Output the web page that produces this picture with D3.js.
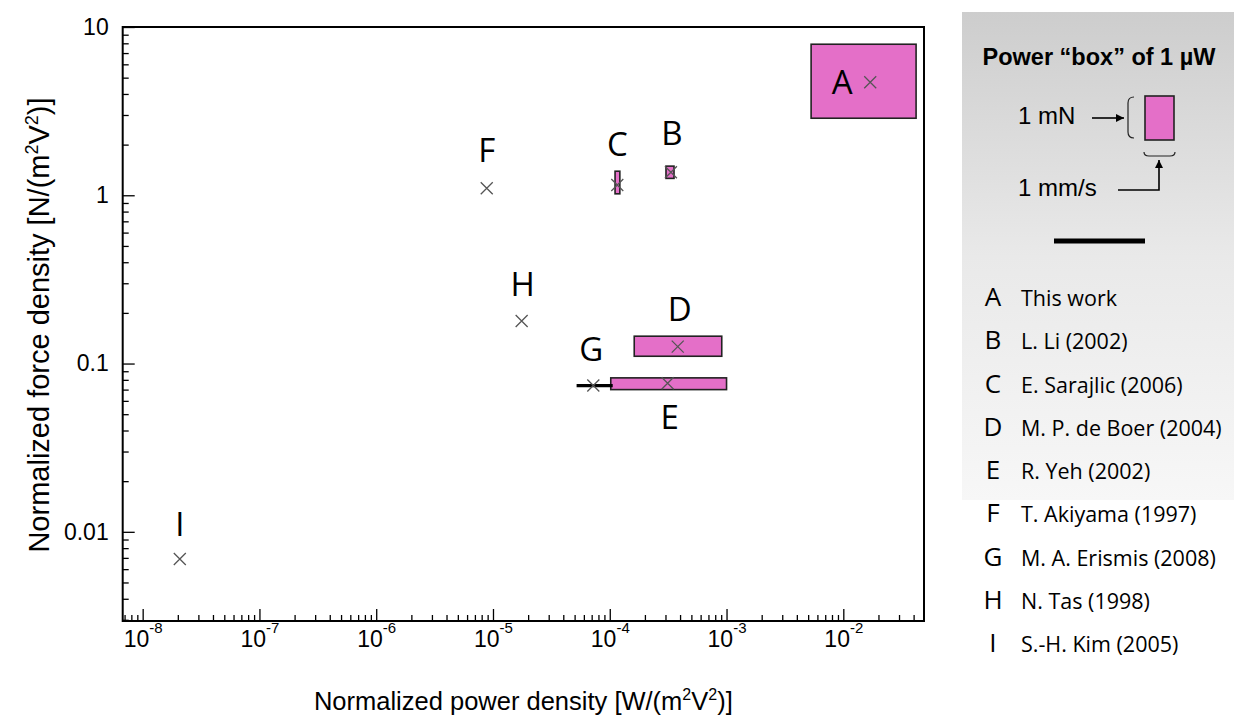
<!DOCTYPE html>
<html>
<head>
<meta charset="utf-8">
<script src="https://cdn.jsdelivr.net/npm/d3@7"></script>
<style>
  body { margin: 0; background: #fff; }
  svg { display: block; }
  .tick text { font-family: "Liberation Sans", Arial, sans-serif; fill: #000; }
  .tick line { stroke: #000; stroke-width: 1.3; }
</style>
</head>
<body>
<div id="chart"></div>
<script>
// data (power in W/(m2V2), force in N/(m2V2))
const labels = ['A', 'B', 'C', 'D', 'E', 'F', 'G', 'H', 'I'];
const refs = ['This work', 'L. Li (2002)', 'E. Sarajlic (2006)', 'M. P. de Boer (2004)',
  'R. Yeh (2002)', 'T. Akiyama (1997)', 'M. A. Erismis (2008)', 'N. Tas (1998)', 'S.-H. Kim (2005)'];
const power = [1.7e-2, 3.34e-4, 1.16e-4, 3.82e-4, 3.13e-4, 8.84e-6, 7.23e-5, 1.76e-5, 2.08e-8];
const force = [4.7, 1.37, 1.15, 0.126, 0.0764, 1.1, 0.074, 0.179, 0.0069];
// ranges (null = no range)
const powerLo = [5.3e-3, 3.03e-4, 1.11e-4, 1.62e-4, 1.02e-4, null, 5.2e-5, null, null];
const powerHi = [4.2e-2, 3.55e-4, 1.22e-4, 9.1e-4, 1.0e-3, null, 1.06e-4, null, null];
const forceLo = [2.87, 1.26, 1.02, 0.1105, 0.070, null, null, null, null];
const forceHi = [7.9, 1.49, 1.39, 0.1454, 0.0822, null, null, null, null];

// axis ticks
const xMajor = [1e-8, 1e-7, 1e-6, 1e-5, 1e-4, 1e-3, 1e-2];
const xExp = ['-8', '-7', '-6', '-5', '-4', '-3', '-2'];
const yMajor = [10, 1, 0.1, 0.01];
const yTickLabels = ['10', '1', '0.1', '0.01'];

// layout: letter label offsets from the marker (px)
const labelDx = [-28, 1, 0, 2, 2, 0, -2, 1, 0];
const labelDy = [12, -27, -29, -26, 46, -26, -25, -25, -23];

const W = 1234, H = 719;
const plot = { left: 122.7, right: 924, top: 27, bottom: 621 };
const pink = '#e46fc8';
const arial = '"Liberation Sans", Arial, sans-serif';
const sans = '"Open Sans", "Noto Sans", sans-serif';

const svg = d3.select('#chart').append('svg').attr('width', W).attr('height', H);

const x = d3.scaleLog().domain([10 ** -8.171, 10 ** -1.309]).range([plot.left, plot.right]);
const y = d3.scaleLog().domain([10 ** -2.53, 10]).range([plot.bottom, plot.top]);

// minor tick values
function minors(lo, hi) {
  const out = [];
  for (let e = Math.floor(Math.log10(lo)); e <= Math.ceil(Math.log10(hi)); e++) {
    for (let m = 2; m <= 9; m++) {
      const v = m * 10 ** e;
      if (v > lo && v < hi) out.push(v);
    }
  }
  return out;
}

// x axis
svg.append('g')
  .attr('transform', `translate(0,${plot.bottom})`)
  .call(d3.axisBottom(x).tickValues(minors(...x.domain())).tickSize(-6).tickFormat(''))
  .call(g => g.select('.domain').remove());

const xg = svg.append('g')
  .attr('transform', `translate(0,${plot.bottom})`)
  .call(d3.axisBottom(x).tickValues(xMajor).tickSize(-12).tickPadding(12).tickFormat(''))
  .call(g => g.select('.domain').remove());

xg.selectAll('.tick text').each(function (d, i) {
  const t = d3.select(this).attr('font-size', 23).attr('dy', '0.71em').attr('y', 10);
  t.append('tspan').text('10');
  t.append('tspan').attr('font-size', 15).attr('dy', '-0.95em').text(xExp[i]);
});

// y axis
svg.append('g')
  .attr('transform', `translate(${plot.left},0)`)
  .call(d3.axisLeft(y).tickValues(minors(...y.domain())).tickSize(-6).tickFormat(''))
  .call(g => g.select('.domain').remove());

svg.append('g')
  .attr('transform', `translate(${plot.left},0)`)
  .call(d3.axisLeft(y).tickValues(yMajor).tickSize(-12).tickPadding(14)
    .tickFormat((d, i) => yTickLabels[i]))
  .call(g => g.select('.domain').remove())
  .call(g => g.selectAll('.tick text').attr('font-size', 23));

// frame
svg.append('rect')
  .attr('x', plot.left).attr('y', plot.top)
  .attr('width', plot.right - plot.left).attr('height', plot.bottom - plot.top)
  .attr('fill', 'none').attr('stroke', '#000').attr('stroke-width', 2);

// axis titles
const xt = svg.append('text')
  .attr('x', (plot.left + plot.right) / 2).attr('y', 710)
  .attr('text-anchor', 'middle').attr('font-family', arial).attr('font-size', 25.5);
xt.append('tspan').text('Normalized power density [W/(m');
xt.append('tspan').attr('font-size', 16).attr('dy', -10).text('2');
xt.append('tspan').attr('dy', 10).text('V');
xt.append('tspan').attr('font-size', 16).attr('dy', -10).text('2');
xt.append('tspan').attr('dy', 10).text(')]');

const yt = svg.append('text')
  .attr('transform', `translate(49,325) rotate(-90)`)
  .attr('text-anchor', 'middle').attr('font-family', arial).attr('font-size', 29);
yt.append('tspan').text('Normalized force density [N/(m');
yt.append('tspan').attr('font-size', 18).attr('dy', -11).text('2');
yt.append('tspan').attr('dy', 11).text('V');
yt.append('tspan').attr('font-size', 18).attr('dy', -11).text('2');
yt.append('tspan').attr('dy', 11).text(')]');

// data marks
const idx = d3.range(labels.length);

// boxes
svg.append('g').selectAll('rect')
  .data(idx.filter(i => powerLo[i] != null && forceLo[i] != null))
  .join('rect')
  .attr('x', i => x(powerLo[i]))
  .attr('y', i => y(forceHi[i]))
  .attr('width', i => x(powerHi[i]) - x(powerLo[i]))
  .attr('height', i => y(forceLo[i]) - y(forceHi[i]))
  .attr('fill', pink).attr('stroke', '#222').attr('stroke-width', 1.6);

// horizontal range bars (no force range)
svg.append('g').selectAll('line')
  .data(idx.filter(i => powerLo[i] != null && forceLo[i] == null))
  .join('line')
  .attr('x1', i => x(powerLo[i])).attr('x2', i => x(powerHi[i]))
  .attr('y1', i => y(force[i])).attr('y2', i => y(force[i]))
  .attr('stroke', '#000').attr('stroke-width', 3.2);

// crosses
svg.append('g').selectAll('path')
  .data(idx)
  .join('path')
  .attr('transform', i => `translate(${x(power[i])},${y(force[i])})`)
  .attr('d', 'M-6,-6L6,6M-6,6L6,-6')
  .attr('stroke', '#555').attr('stroke-width', 1.3).attr('fill', 'none');

// letter labels
svg.append('g').selectAll('text')
  .data(idx)
  .join('text')
  .attr('x', i => x(power[i]) + labelDx[i])
  .attr('y', i => y(force[i]) + labelDy[i])
  .attr('text-anchor', 'middle')
  .attr('font-family', sans).attr('font-size', 33)
  .text(i => labels[i]);

// legend panel
const defs = svg.append('defs');
const grad = defs.append('linearGradient').attr('id', 'panel')
  .attr('x1', 0).attr('y1', 0).attr('x2', 0).attr('y2', 1);
grad.append('stop').attr('offset', 0).attr('stop-color', '#cdcdcd');
grad.append('stop').attr('offset', 0.5).attr('stop-color', '#e9e9e9');
grad.append('stop').attr('offset', 1).attr('stop-color', '#f7f7f7');

defs.append('marker').attr('id', 'arr')
  .attr('viewBox', '0 0 10 10').attr('refX', 10).attr('refY', 5)
  .attr('markerWidth', 5).attr('markerHeight', 5).attr('orient', 'auto-start-reverse')
  .attr('markerUnits', 'strokeWidth')
  .append('path').attr('d', 'M0,0L10,5L0,10Z').attr('fill', '#000');

const lg = svg.append('g');
lg.append('rect').attr('x', 962).attr('y', 12).attr('width', W - 962).attr('height', 488)
  .attr('fill', 'url(#panel)');

lg.append('text').attr('x', 1099).attr('y', 65).attr('text-anchor', 'middle')
  .attr('font-family', arial).attr('font-size', 23.5).attr('font-weight', 'bold')
  .text('Power \u201cbox\u201d of 1 \u00b5W');

lg.append('text').attr('x', 1018).attr('y', 124)
  .attr('font-family', arial).attr('font-size', 24).text('1 mN');
lg.append('text').attr('x', 1018).attr('y', 196)
  .attr('font-family', arial).attr('font-size', 24).text('1 mm/s');

// arrow to the force bracket
lg.append('line').attr('x1', 1092).attr('y1', 118).attr('x2', 1124).attr('y2', 118)
  .attr('stroke', '#000').attr('stroke-width', 1.6).attr('marker-end', 'url(#arr)');
// force bracket
lg.append('path').attr('d', 'M1134,97 Q1128,97 1128,103 L1128,132 Q1128,138 1134,138')
  .attr('fill', 'none').attr('stroke', '#222').attr('stroke-width', 1.2);
// power box
lg.append('rect').attr('x', 1145).attr('y', 96).attr('width', 29).attr('height', 44)
  .attr('fill', pink).attr('stroke', '#222').attr('stroke-width', 1.6);
// velocity bracket
lg.append('path').attr('d', 'M1144,152 Q1144,156 1149,156 L1170,156 Q1175,156 1175,152')
  .attr('fill', 'none').attr('stroke', '#222').attr('stroke-width', 1.2);
lg.append('path').attr('d', 'M1118,190 L1159,190 L1159,160')
  .attr('fill', 'none').attr('stroke', '#000').attr('stroke-width', 1.6)
  .attr('marker-end', 'url(#arr)');

// scale bar
lg.append('line').attr('x1', 1054).attr('x2', 1145).attr('y1', 241).attr('y2', 241)
  .attr('stroke', '#000').attr('stroke-width', 5);

// legend entries
const rows = lg.append('g').selectAll('g')
  .data(idx)
  .join('g')
  .attr('transform', i => `translate(0,${306 + i * 43.25})`);
rows.append('text').attr('x', 993).attr('text-anchor', 'middle')
  .attr('font-family', sans).attr('font-size', 26).text(i => labels[i]);
rows.append('text').attr('x', 1021)
  .attr('font-family', sans).attr('font-size', 21.5).text(i => refs[i]);
</script>
</body>
</html>
